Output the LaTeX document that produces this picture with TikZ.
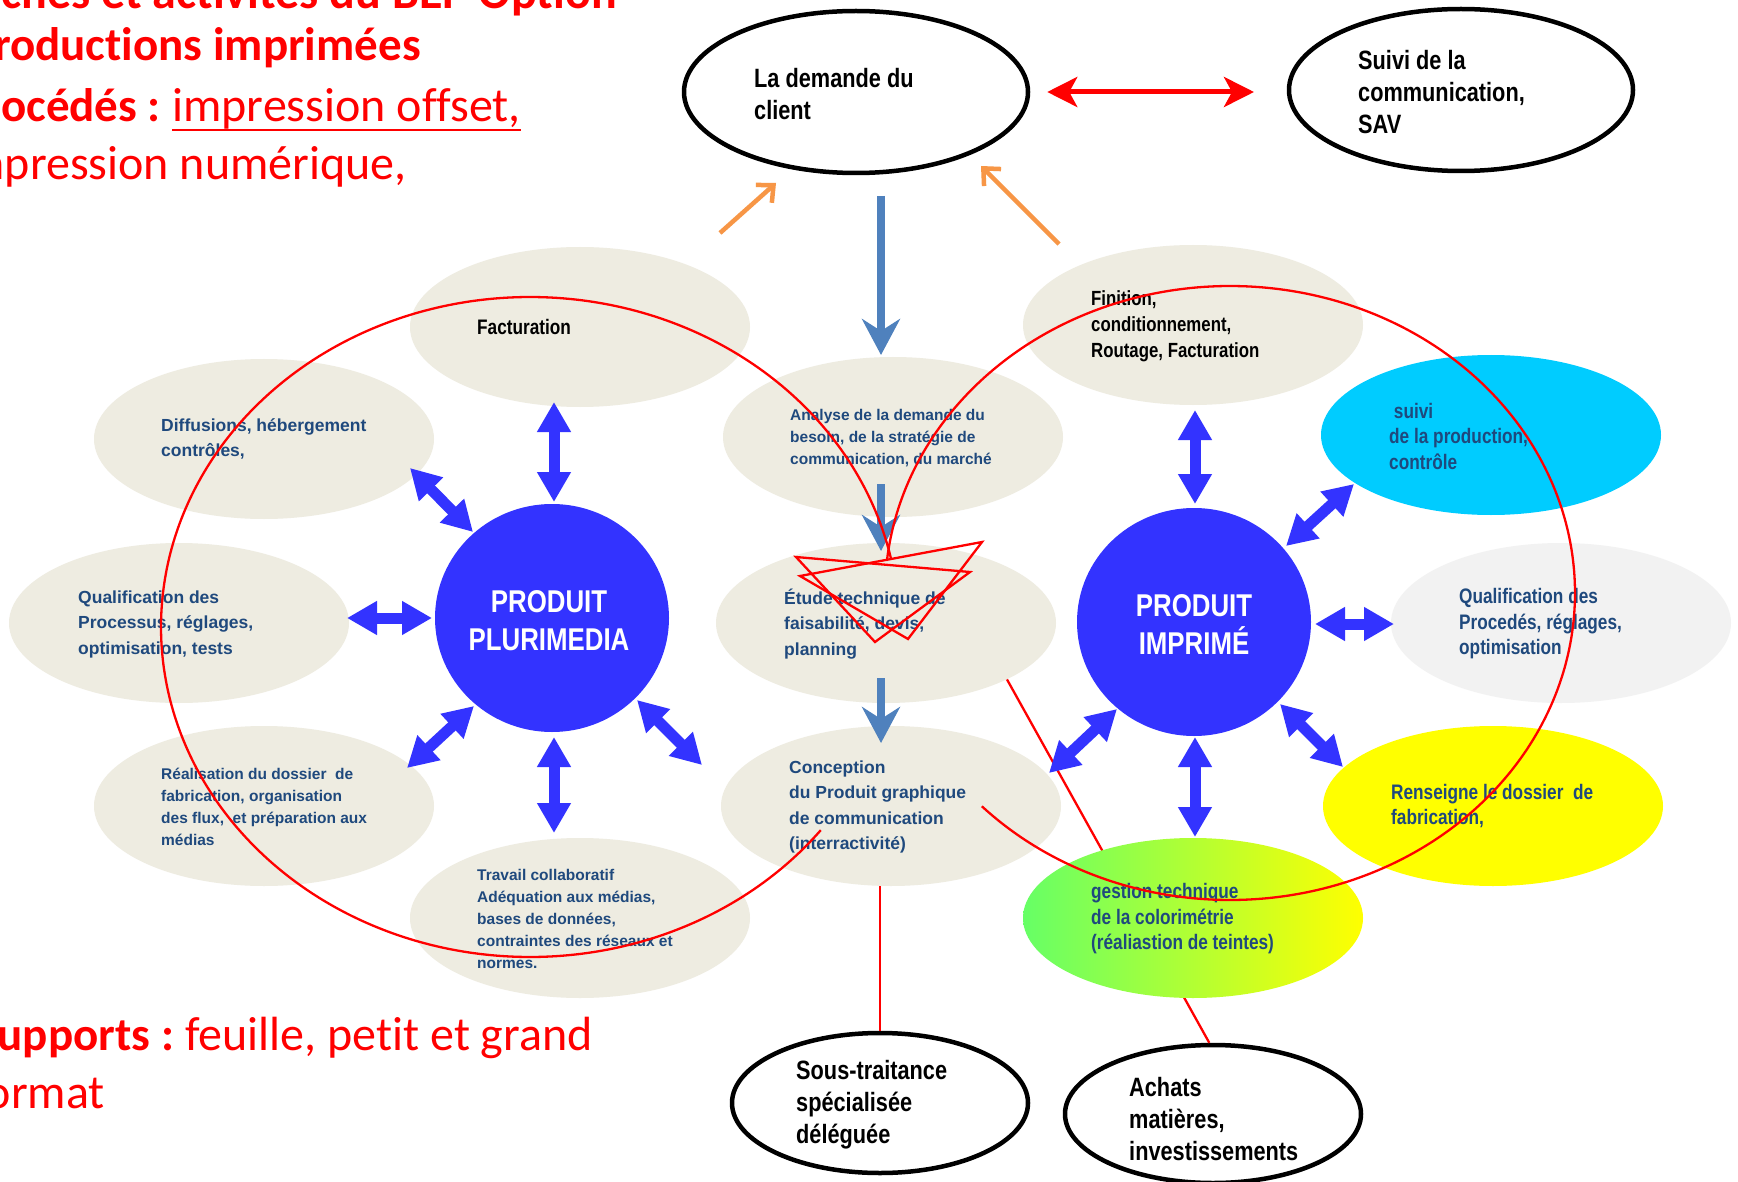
\documentclass[tikz,border=0pt]{standalone}
\usepackage{fontspec}
\setmainfont{Liberation Sans}
\newfontfamily\narrow[FakeStretch=0.82]{Liberation Sans}
\newfontfamily\calibri[Ligatures=NoCommon]{Carlito}
\usetikzlibrary{arrows.meta,shapes.geometric}
\definecolor{redc}{HTML}{FF0000}
\definecolor{orangec}{HTML}{F79646}
\definecolor{steel}{HTML}{4F81BD}
\definecolor{pblue}{HTML}{3333FF}
\definecolor{beige}{HTML}{EEECE1}
\definecolor{lgray}{HTML}{F2F2F2}
\definecolor{cyanc}{HTML}{00CCFF}
\definecolor{yel}{HTML}{FFFF00}
\definecolor{grn}{HTML}{66FF66}
\definecolor{txtblue}{HTML}{1F497D}
\begin{document}
\begin{tikzpicture}[x=1pt,y=-1pt,
  ell/.style={ellipse, minimum width=340pt, minimum height=160pt, inner sep=0pt, fill=beige},
  blk/.style={ellipse, draw=black, line width=4.5pt, fill=white, inner sep=0pt},
  circ/.style={ellipse, minimum width=234pt, minimum height=228pt, inner sep=0pt, fill=pblue},
  btxt/.style={anchor=west, align=left, inner sep=0pt, text=txtblue, font=\bfseries\fontsize{17.5}{25.5}\selectfont},
  stxt/.style={anchor=west, align=left, inner sep=0pt, text=txtblue, font=\bfseries\fontsize{15.5}{22}\selectfont},
  ntxt/.style={anchor=west, align=left, inner sep=0pt, text=txtblue, font=\narrow\bfseries\fontsize{21}{25.5}\selectfont},
  ktxt/.style={anchor=west, align=left, inner sep=0pt, text=black, font=\narrow\bfseries\fontsize{26.5}{32}\selectfont},
  ptxt/.style={align=center, inner sep=0pt, text=white, font=\narrow\bfseries\fontsize{31.5}{38}\selectfont},
  ttl/.style={anchor=base east, inner sep=0pt, text=redc, font=\calibri\fontsize{48}{58}\selectfont},
  ttlb/.style={ttl, font=\calibri\bfseries\fontsize{48}{58}\selectfont},
  fat/.style={line width=11pt, draw=pblue, {Triangle[length=30pt,width=32pt]}-{Triangle[length=30pt,width=32pt]}},
  flowarrow/.style={line width=8pt, draw=steel, -{Stealth[length=36pt,width=38pt,inset=12pt]}},
  orarrow/.style={line width=4.5pt, draw=orangec, -{Straight Barb[length=13pt,width=24pt]}},
  redline/.style={draw=redc, line width=2.3pt}
]
\useasboundingbox (0,0) rectangle (1738,1182);
\clip (0,0) rectangle (1738,1182);
\fill[white] (0,0) rectangle (1738,1182);

% title texts
\node[ttlb] (t1) at (617,9) {Tâches et activités du BEP Option};
\node[ttlb, font=\calibri\bfseries\fontsize{47}{58}\selectfont] (t2) at (421,61) {Productions imprimées};
\node[ttl] (t3b) at (521,122) {impression offset,};
\node[ttlb, font=\calibri\bfseries\fontsize{47}{58}\selectfont] (t3a) at ([xshift=-11pt]t3b.base west) {Procédés :};
\draw[redc, line width=2.5pt] ([yshift=-8pt]t3b.base west) -- ([yshift=-8pt]t3b.base east);
\node[ttl] (t4) at (407,180) {impression numérique,};
\node[ttl] (s1b) at (593,1050) {feuille, petit et grand};
\node[ttlb, font=\calibri\bfseries\fontsize{47}{58}\selectfont] (s1a) at ([xshift=-11pt]s1b.base west) {Supports :};
\node[ttl] (s2) at (105,1108) {format};

% nodes
\node[ell] (fact) at (580,327) {};
\node[ell] (diff) at (264,439) {};
\node[ell] (qualL) at (179,623) {};
\node[ell] (real) at (264,806) {};
\node[ell] (trav) at (580,918) {};
\node[ell] (anal) at (893,437) {};
\node[ell] (etude) at (886,623) {};
\node[ell] (conc) at (891,806) {};
\node[ell] (fini) at (1193,325) {};
\node[ell,fill=cyanc] (suivp) at (1491,435) {};
\node[ell,fill=lgray] (qualR) at (1561,623) {};
\node[ell,fill=yel] (rens) at (1493,806) {};
\node[blk, minimum width=296pt, minimum height=140pt] (sous) at (880,1103) {};
\node[blk, minimum width=296pt, minimum height=138pt] (achats) at (1213,1114) {};

% red line behind gradient ellipse
\draw[redline] (etude.-25) -- (achats.93);
\node[ell, fill=none, left color=grn, right color=yel] (gest) at (1193,918) {};

\node[circ] (plur) at (552,618) {};
\node[circ] (impr) at (1194,622) {};

\node[blk, minimum width=344pt, minimum height=162pt] (demande) at (856,92) {};
\node[blk, minimum width=344pt, minimum height=162pt] (suivc) at (1461,90) {};

% texts
\node[ktxt] (demandet) at (754,94) {La demande du\\client};
\node[ktxt] (suivct) at (1358,92) {Suivi de la\\communication,\\SAV};
\node[ktxt] (soust) at (796,1105) {Sous-traitance\\spécialisée\\déléguée};
\node[ktxt] (achatst) at (1129,1119) {Achats\\matières,\\investissements};
\node[ntxt,text=black] (factt) at (477,327) {Facturation};
\node[btxt] (difft) at (161,439) {Diffusions, hébergement\\contrôles,};
\node[btxt] (qualLt) at (78,624) {Qualification des\\Processus, réglages,\\optimisation, tests};
\node[stxt] (realt) at (161,807) {Réalisation du dossier~~de\\fabrication, organisation\\des flux,~ et préparation aux\\médias};
\node[stxt] (travt) at (477,919) {Travail collaboratif\\Adéquation aux médias,\\bases de données,\\contraintes des réseaux et\\normes.};
\node[stxt] (analt) at (790,438) {Analyse de la demande du\\besoin, de la stratégie de\\communication, du marché};
\node[btxt] (etudet) at (784,624) {Étude technique de\\faisabilité, devis,\\planning};
\node[btxt] (conct) at (789,807) {Conception\\du Produit graphique\\de communication\\(interractivité)};
\node[ntxt,text=black,font=\narrow\bfseries\fontsize{20.5}{26}\selectfont] (finit) at (1091,326) {Finition,\\conditionnement,\\Routage, Facturation};
\node[ntxt] (suivpt) at (1389,436) {~suivi\\de la production,\\contrôle};
\node[ntxt] (qualRt) at (1459,624) {Qualification des\\Procedés, réglages,\\optimisation};
\node[ntxt] (renst) at (1391,806) {Renseigne le dossier~~de\\fabrication,};
\node[ntxt] (gestt) at (1091,919) {gestion technique\\de la colorimétrie\\(réaliastion de teintes)};
\node[ptxt] (plurt) at (549,621) {PRODUIT\\PLURIMEDIA};
\node[ptxt] (imprt) at (1194,624) {PRODUIT\\IMPRIMÉ};

% fat blue double arrows
\coordinate (pu1) at (554,402); \coordinate (pu2) at (554,502);
\coordinate (pl1) at (347,618); \coordinate (pl2) at (432,618);
\coordinate (pul1) at (410,468); \coordinate (pul2) at (473,532);
\coordinate (pdl1) at (407,768); \coordinate (pdl2) at (474,706);
\coordinate (pd1) at (554,737); \coordinate (pd2) at (554,833);
\coordinate (pdr1) at (637,700); \coordinate (pdr2) at (702,765);
\coordinate (iu1) at (1195,410); \coordinate (iu2) at (1195,504);
\coordinate (ir1) at (1315,624); \coordinate (ir2) at (1394,624);
\coordinate (iur1) at (1286,546); \coordinate (iur2) at (1354,484);
\coordinate (idl1) at (1049,773); \coordinate (idl2) at (1117,709);
\coordinate (id1) at (1195,737); \coordinate (id2) at (1195,837);
\coordinate (idr1) at (1280,704); \coordinate (idr2) at (1343,767);
\foreach \a in {pu,pl,pul,pdl,pd,pdr,iu,ir,iur,idl,id,idr}
  \draw[fat] (\a1) -- (\a2);

% steel blue flow arrows
\coordinate (f1a) at (881,196); \coordinate (f1b) at (881,355);
\coordinate (f2a) at (881,484); \coordinate (f2b) at (881,551);
\coordinate (f3a) at (881,678); \coordinate (f3b) at (881,743);
\draw[flowarrow] (f1a) -- (f1b);
\draw[flowarrow] (f2a) -- (f2b);
\draw[flowarrow] (f3a) -- (f3b);

% orange arrows
\coordinate (o1a) at (720,233); \coordinate (o1b) at (776,183);
\coordinate (o2a) at (1059,244); \coordinate (o2b) at (981,166);
\draw[orarrow] (o1a) -- (o1b);
\draw[orarrow] (o2a) -- (o2b);

% red double arrow
\draw[line width=5pt, draw=redc, {Stealth[length=30pt,width=30pt,inset=8pt]}-{Stealth[length=30pt,width=30pt,inset=8pt]}] (demande.east) ++(17,0) coordinate (ra) -- (1254,92) coordinate (rb);

% red annotations
\draw[redline] (sous.north |- conc.south) -- (sous.north);
\draw[redline] plot[domain=-38:-348, samples=240, smooth] ({530+369*cos(\x)}, {627-330*sin(\x)});
\draw[redline] plot[domain=-136:174, samples=240, smooth] ({1230+345*cos(\x)}, {593-307*sin(\x)});
\draw[redline, line join=miter] (796,557) -- (970,572) -- (875,642) -- cycle;
\draw[redline, line join=miter] (800,576) -- (982,542) -- (908,639) -- cycle;
\end{tikzpicture}
\end{document}
